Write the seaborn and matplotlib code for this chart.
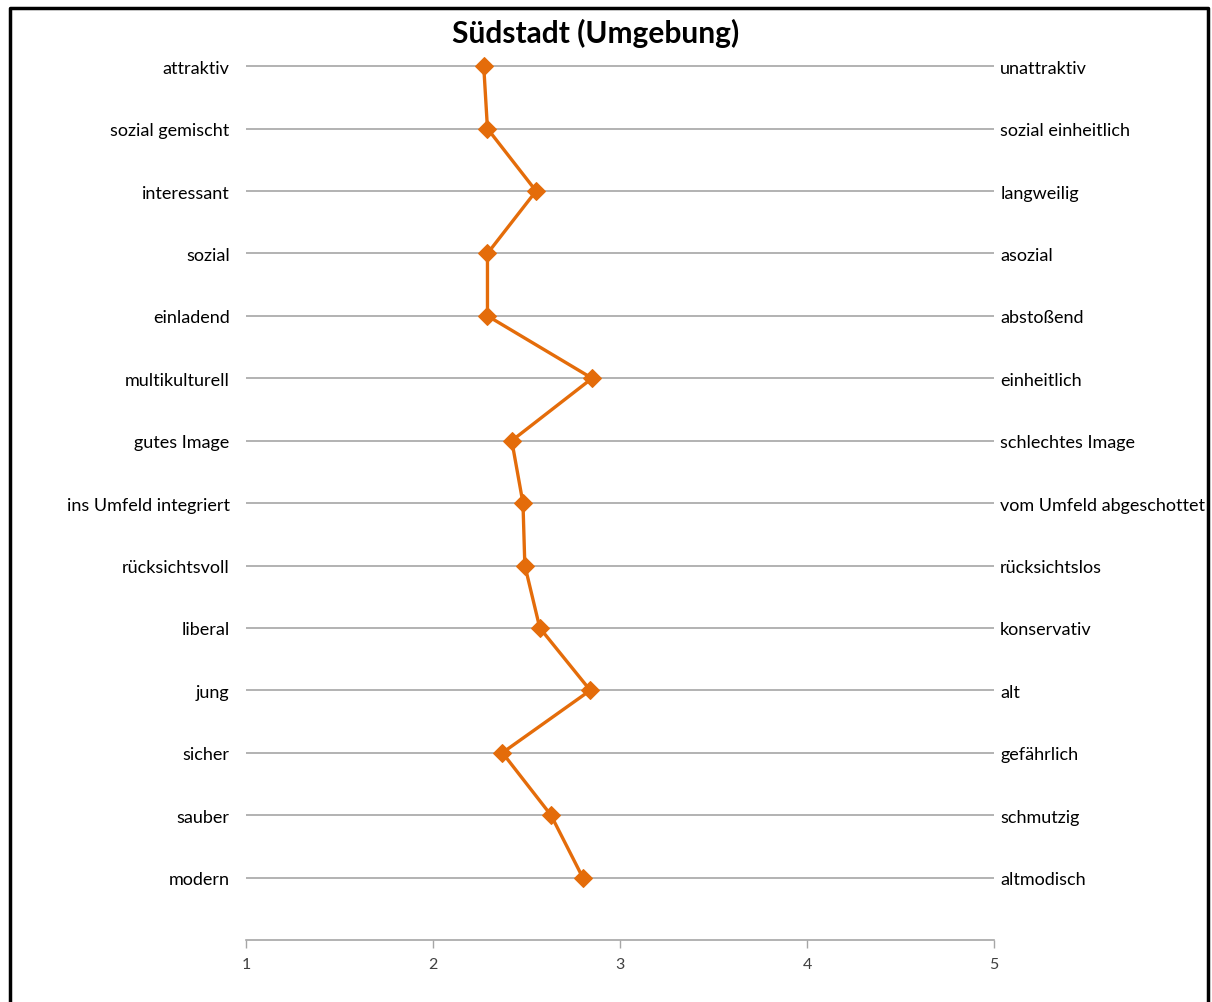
import seaborn as sns
import pandas as pd
import matplotlib.pyplot as plt
from matplotlib.lines import Line2D

left_labels = ['attraktiv', 'sozial gemischt', 'interessant', 'sozial', 'einladend',
               'multikulturell', 'gutes Image', 'ins Umfeld integriert', 'rücksichtsvoll',
               'liberal', 'jung', 'sicher', 'sauber', 'modern']
right_labels = ['unattraktiv', 'sozial einheitlich', 'langweilig', 'asozial', 'abstoßend',
                'einheitlich', 'schlechtes Image', 'vom Umfeld abgeschottet', 'rücksichtslos',
                'konservativ', 'alt', 'gefährlich', 'schmutzig', 'altmodisch']
values = [2.27, 2.29, 2.55, 2.29, 2.29, 2.85, 2.42, 2.48, 2.49, 2.57, 2.84, 2.37, 2.63, 2.80]
x_ticks = [1, 2, 3, 4, 5]

# top row drawn highest
positions = list(range(len(left_labels), 0, -1))
df = pd.DataFrame({'label': left_labels, 'wert': values, 'pos': positions})

sns.set_style('white')
plt.rcParams['font.family'] = ['Lato', 'DejaVu Sans']

fig = plt.figure(figsize=(12.12, 10.03), dpi=100)
ax = fig.add_axes([246.4 / 1212, 62 / 1003, (993.9 - 246.4) / 1212, (941 - 36) / 1003])

orange = '#E46C0A'
sns.lineplot(data=df, x='wert', y='pos', sort=False, estimator=None, ax=ax,
             color=orange, linewidth=2.4, marker='D', markersize=9.5,
             markeredgecolor=orange, zorder=3)

ax.set_xlim(1, 5)
ax.set_ylim(0, 14.5)
ax.set_xticks(x_ticks)
ax.set_xticklabels([str(t) for t in x_ticks], fontsize=11.5, color='#404040')
ax.set_yticks(positions)
ax.set_yticklabels(left_labels, fontsize=13, color='black')
ax.tick_params(axis='y', length=0, pad=12)
ax.tick_params(axis='x', length=6, width=1, color='#A6A6A6', direction='out', pad=6, bottom=True)
ax.set_xlabel('')
ax.set_ylabel('')
for p in positions:
    ax.axhline(p, color='#A6A6A6', linewidth=1.2, zorder=1)
for s in ['top', 'left', 'right']:
    ax.spines[s].set_visible(False)
ax.spines['bottom'].set_color('#A6A6A6')
ax.spines['bottom'].set_linewidth(1.2)

ax2 = ax.twinx()
ax2.set_ylim(ax.get_ylim())
ax2.set_yticks(positions)
ax2.set_yticklabels(right_labels, fontsize=13, color='black')
ax2.tick_params(axis='y', length=0, pad=4.5)
for s in ['top', 'left', 'right', 'bottom']:
    ax2.spines[s].set_visible(False)

fig.text(596 / 1212, 1 - 33 / 1003, 'Südstadt (Umgebung)', ha='center', va='center',
         fontsize=21.5, fontweight='bold', color='black')

# chart area frame (bottom edge cut off in the reference)
fx0, fx1 = 10 / 1212, 1208 / 1212
fy1 = 1 - 9 / 1003
fig.add_artist(Line2D([fx0, fx0, fx1, fx1], [0, fy1, fy1, 0], color='black', linewidth=2.5))

fig.savefig('out.png', dpi=100)
